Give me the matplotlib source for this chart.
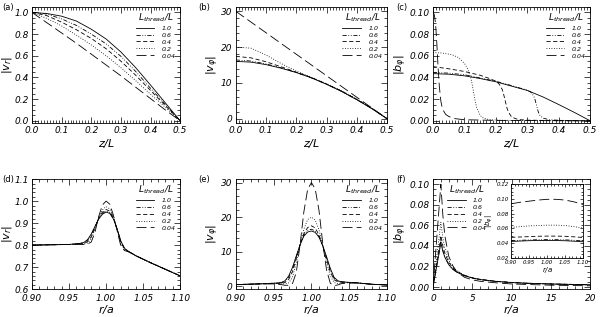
import numpy as np
import matplotlib
matplotlib.use('Agg')
import matplotlib.pyplot as plt
from matplotlib.ticker import MultipleLocator, AutoMinorLocator, FormatStrFormatter

plt.rcParams['font.family'] = 'DejaVu Sans'
plt.rcParams['font.style'] = 'italic'
plt.rcParams['mathtext.fontset'] = 'dejavusans'

# ---- data ----
ratios = ['1.0', '0.6', '0.4', '0.2', '0.04']

# (a) |v_r| vs z/L
z_ab = [0, 0.05, 0.1, 0.15, 0.2, 0.25, 0.3, 0.35, 0.4, 0.45, 0.5]
va = {
    '1.0':  [1.0, 0.99, 0.965, 0.92, 0.845, 0.755, 0.635, 0.49, 0.33, 0.165, 0.0],
    '0.6':  [1.0, 0.985, 0.94, 0.88, 0.80, 0.71, 0.595, 0.455, 0.30, 0.15, 0.0],
    '0.4':  [1.0, 0.97, 0.91, 0.84, 0.76, 0.665, 0.55, 0.42, 0.28, 0.14, 0.0],
    '0.2':  [1.0, 0.945, 0.875, 0.79, 0.70, 0.60, 0.49, 0.37, 0.245, 0.125, 0.0],
    '0.04': [1.0, 0.905, 0.81, 0.715, 0.615, 0.515, 0.415, 0.31, 0.205, 0.10, 0.0],
}

# (b) |v_phi| vs z/L
vb = {
    '1.0':  [16.0, 15.8, 15.1, 14.1, 12.9, 11.4, 9.6, 7.6, 5.3, 2.8, 0.0],
    '0.6':  [16.4, 16.1, 15.3, 14.2, 12.9, 11.4, 9.65, 7.65, 5.35, 2.85, 0.0],
    '0.4':  [17.4, 17.0, 15.9, 14.5, 13.0, 11.5, 9.7, 7.7, 5.4, 2.9, 0.0],
    '0.2':  [20.0, 19.7, 17.8, 15.4, 13.3, 11.6, 9.8, 7.8, 5.5, 2.9, 0.0],
    '0.04': [30.0, 27.0, 24.0, 21.0, 18.0, 15.0, 12.0, 9.0, 6.0, 3.0, 0.0],
}

# (c) |b_phi| vs z/L
zc = {
    '1.0':  [0, 0.05, 0.1, 0.15, 0.2, 0.25, 0.3, 0.35, 0.4, 0.45, 0.5],
    '0.6':  [0, 0.05, 0.1, 0.15, 0.2, 0.25, 0.3, 0.31, 0.32, 0.325, 0.33, 0.335, 0.34,
             0.35, 0.37, 0.4, 0.45, 0.5],
    '0.4':  [0, 0.05, 0.1, 0.15, 0.18, 0.2, 0.21, 0.22, 0.225, 0.23, 0.235, 0.24, 0.25,
             0.27, 0.3, 0.4, 0.5],
    '0.2':  [0, 0.03, 0.06, 0.08, 0.10, 0.11, 0.12, 0.125, 0.13, 0.135, 0.14, 0.15, 0.16,
             0.18, 0.22, 0.3, 0.5],
    '0.04': [0, 0.004, 0.008, 0.012, 0.016, 0.02, 0.025, 0.03, 0.04, 0.05, 0.07, 0.1, 0.2, 0.5],
}
bc = {
    '1.0':  [0.0435, 0.043, 0.0415, 0.039, 0.036, 0.032, 0.028, 0.022, 0.015, 0.0077, 0.0],
    '0.6':  [0.0445, 0.044, 0.0425, 0.0395, 0.0365, 0.0325, 0.0282, 0.0268, 0.023, 0.019,
             0.0135, 0.008, 0.005, 0.0025, 0.001, 0.0005, 0.0002, 0.0],
    '0.4':  [0.050, 0.048, 0.0455, 0.042, 0.039, 0.0365, 0.034, 0.029, 0.024, 0.018, 0.012,
             0.008, 0.0035, 0.0012, 0.0006, 0.0002, 0.0],
    '0.2':  [0.063, 0.0625, 0.061, 0.0585, 0.053, 0.048, 0.040, 0.033, 0.025, 0.017, 0.011,
             0.005, 0.0025, 0.001, 0.0005, 0.0002, 0.0],
    '0.04': [0.100, 0.098, 0.090, 0.072, 0.050, 0.032, 0.018, 0.011, 0.006, 0.004, 0.002,
             0.001, 0.0004, 0.0],
}

# (d) |v_r| vs r/a
r_d = [0.90, 0.95, 0.96, 0.965, 0.97, 0.975, 0.98, 0.985, 0.99, 0.995, 1.0, 1.005, 1.01,
       1.015, 1.02, 1.025, 1.03, 1.04, 1.05, 1.06, 1.08, 1.10]
vd = {
    '1.0':  [0.800, 0.803, 0.806, 0.808, 0.812, 0.825, 0.850, 0.885, 0.918, 0.940, 0.950, 0.944,
             0.918, 0.872, 0.818, 0.785, 0.772, 0.752, 0.736, 0.720, 0.690, 0.660],
    '0.6':  [0.800, 0.803, 0.806, 0.808, 0.811, 0.822, 0.847, 0.884, 0.920, 0.944, 0.955, 0.948,
             0.920, 0.872, 0.816, 0.784, 0.772, 0.752, 0.736, 0.720, 0.690, 0.660],
    '0.4':  [0.800, 0.803, 0.805, 0.806, 0.808, 0.815, 0.838, 0.879, 0.922, 0.950, 0.962, 0.954,
             0.924, 0.872, 0.812, 0.782, 0.771, 0.752, 0.736, 0.720, 0.690, 0.660],
    '0.2':  [0.800, 0.803, 0.804, 0.805, 0.806, 0.810, 0.828, 0.873, 0.925, 0.960, 0.975, 0.965,
             0.928, 0.870, 0.805, 0.779, 0.771, 0.752, 0.736, 0.720, 0.690, 0.660],
    '0.04': [0.800, 0.803, 0.803, 0.803, 0.803, 0.805, 0.814, 0.858, 0.930, 0.982, 1.000, 0.986,
             0.935, 0.864, 0.795, 0.775, 0.770, 0.752, 0.736, 0.720, 0.690, 0.660],
}

# (e) |v_phi| vs r/a
r_e = [0.90, 0.93, 0.95, 0.96, 0.965, 0.97, 0.975, 0.98, 0.985, 0.99, 0.995, 1.0, 1.005,
       1.01, 1.015, 1.02, 1.025, 1.03, 1.035, 1.04, 1.06, 1.08, 1.10]
ve = {
    '1.0':  [0.5, 0.7, 0.9, 1.1, 1.6, 3.0, 5.5, 8.8, 12.0, 14.5, 15.7, 16.0, 15.6, 14.2, 11.8,
             8.6, 5.2, 2.6, 1.6, 1.3, 1.0, 0.6, 0.4],
    '0.6':  [0.5, 0.7, 0.9, 1.0, 1.4, 2.6, 5.0, 8.5, 12.0, 14.8, 16.2, 16.5, 16.0, 14.4, 11.7,
             8.3, 4.8, 2.3, 1.5, 1.3, 1.0, 0.6, 0.4],
    '0.4':  [0.5, 0.7, 0.8, 0.9, 1.1, 2.0, 4.2, 8.0, 12.0, 15.2, 17.0, 17.5, 16.9, 14.9, 11.6,
             7.8, 4.2, 1.9, 1.3, 1.2, 1.0, 0.6, 0.4],
    '0.2':  [0.5, 0.7, 0.8, 0.7, 0.7, 1.0, 2.6, 6.8, 12.0, 16.5, 19.3, 20.0, 19.2, 16.4, 11.8,
             6.9, 3.0, 1.1, 0.8, 1.0, 1.0, 0.6, 0.4],
    '0.04': [0.5, 0.7, 0.7, 0.5, 0.3, 0.3, 0.8, 4.0, 12.0, 21.5, 28.0, 30.0, 28.2, 22.0, 12.5,
             4.8, 0.9, 0.2, 0.4, 0.8, 1.0, 0.6, 0.4],
}

# (f) |b_phi| vs r/a, wide range
r_f = [0, 0.25, 0.5, 0.75, 1.0, 1.25, 1.5, 2, 2.5, 3, 4, 5, 6, 8, 10, 12, 15, 20]
bf = {
    '1.0':  [0, 0.011, 0.0215, 0.032, 0.043, 0.035, 0.029, 0.0217, 0.0174, 0.0145, 0.011,
             0.0088, 0.0073, 0.0055, 0.0044, 0.0037, 0.003, 0.0022],
    '0.6':  [0, 0.011, 0.022, 0.033, 0.044, 0.0355, 0.0295, 0.022, 0.0175, 0.0146, 0.011,
             0.0088, 0.0073, 0.0055, 0.0044, 0.0037, 0.003, 0.0022],
    '0.4':  [0, 0.0125, 0.025, 0.0375, 0.050, 0.040, 0.033, 0.024, 0.0188, 0.0155, 0.0115,
             0.009, 0.0075, 0.0056, 0.0045, 0.0037, 0.003, 0.0022],
    '0.2':  [0, 0.016, 0.0315, 0.047, 0.063, 0.048, 0.038, 0.026, 0.020, 0.016, 0.0115,
             0.0087, 0.0071, 0.0053, 0.0042, 0.0035, 0.0028, 0.002],
    '0.04': [0, 0.025, 0.050, 0.075, 0.100, 0.070, 0.050, 0.030, 0.021, 0.015, 0.0095,
             0.007, 0.0056, 0.0041, 0.003, 0.0025, 0.0018, 0.0012],
}

# (f) inset, r/a 0.9-1.1
r_in = [0.90, 0.925, 0.95, 0.975, 1.0, 1.025, 1.05, 1.075, 1.10]
b_in = {
    '1.0':  [0.0425, 0.043, 0.0435, 0.0437, 0.0438, 0.0437, 0.0434, 0.0428, 0.042],
    '0.6':  [0.0435, 0.044, 0.0445, 0.0448, 0.045, 0.0449, 0.0446, 0.044, 0.0432],
    '0.4':  [0.048, 0.0485, 0.049, 0.0495, 0.0497, 0.0497, 0.0494, 0.0487, 0.0478],
    '0.2':  [0.0615, 0.0625, 0.0635, 0.064, 0.0645, 0.0645, 0.064, 0.0625, 0.0605],
    '0.04': [0.0935, 0.0955, 0.097, 0.0985, 0.0995, 0.0995, 0.0985, 0.096, 0.0925],
}

styles = {
    '1.0': '-',
    '0.6': (0, (5, 2, 1, 2, 1, 2)),
    '0.4': (0, (5, 3)),
    '0.2': (0, (1, 2)),
    '0.04': (0, (12, 5)),
}
LW = 0.6

fig = plt.figure(figsize=(6, 3.17), dpi=100)

top_b, top_h = 0.612, 0.366
bot_b, bot_h = 0.088, 0.347
cols = [(0.0533, 0.247), (0.393, 0.252), (0.7217, 0.262)]


def style_axis(ax, xmaj, xmin_n, ymaj, ymin_n, xfmt, yfmt, lsize=6.5, xpad=2.5):
    ax.xaxis.set_major_locator(MultipleLocator(xmaj))
    ax.xaxis.set_minor_locator(AutoMinorLocator(xmin_n))
    ax.yaxis.set_major_locator(MultipleLocator(ymaj))
    ax.yaxis.set_minor_locator(AutoMinorLocator(ymin_n))
    ax.xaxis.set_major_formatter(FormatStrFormatter(xfmt))
    ax.yaxis.set_major_formatter(FormatStrFormatter(yfmt))
    ax.tick_params(which='both', direction='in', top=True, right=True,
                   labelsize=lsize, width=0.5, colors='black', pad=2.5)
    ax.tick_params(axis='x', pad=xpad)
    ax.tick_params(which='major', length=4)
    ax.tick_params(which='minor', length=2)
    for s in ax.spines.values():
        s.set_linewidth(0.6)


def add_legend(ax, **kw):
    leg = ax.legend(title=r'$L_{\rm thread}/L$', frameon=False, fontsize=4.5,
                    handlelength=3.0, labelspacing=0.25, handletextpad=1.2,
                    borderaxespad=0.3, **kw)
    leg.get_title().set_fontsize(6.5)
    return leg


def draw(ax, xs, ys):
    for k in ratios:
        x = xs[k] if isinstance(xs, dict) else xs
        ax.plot(x, ys[k], color='black', lw=LW, ls=styles[k], label=k)


panels = []
# (a)
ax = fig.add_axes([cols[0][0], top_b, cols[0][1], top_h])
draw(ax, z_ab, va)
ax.set_xlim(0, 0.5); ax.set_ylim(-0.02, 1.05)
style_axis(ax, 0.1, 10, 0.2, 4, '%.1f', '%.1f')
ax.set_xlabel(r'$z/L$', fontsize=8, labelpad=1)
ax.set_ylabel(r'$|v_r|$', fontsize=8, labelpad=0)
add_legend(ax, loc='upper right')
panels.append((ax, '(a)'))

# (b)
ax = fig.add_axes([cols[1][0], top_b, cols[1][1], top_h])
draw(ax, z_ab, vb)
ax.set_xlim(0, 0.5); ax.set_ylim(-1.2, 31.2)
style_axis(ax, 0.1, 10, 10, 5, '%.1f', '%d')
ax.set_xlabel(r'$z/L$', fontsize=8, labelpad=1)
ax.set_ylabel(r'$|v_\varphi|$', fontsize=8, labelpad=0)
add_legend(ax, loc='upper right')
panels.append((ax, '(b)'))

# (c)
ax = fig.add_axes([cols[2][0], top_b, cols[2][1], top_h])
draw(ax, zc, bc)
ax.set_xlim(0, 0.5); ax.set_ylim(-0.002, 0.105)
style_axis(ax, 0.1, 10, 0.02, 4, '%.1f', '%.2f')
ax.set_xlabel(r'$z/L$', fontsize=8, labelpad=1)
ax.set_ylabel(r'$|b_\varphi|$', fontsize=8, labelpad=0)
add_legend(ax, loc='upper right')
panels.append((ax, '(c)'))

# (d)
ax = fig.add_axes([cols[0][0], bot_b, cols[0][1], bot_h])
draw(ax, r_d, vd)
ax.set_xlim(0.9, 1.1); ax.set_ylim(0.6, 1.1)
style_axis(ax, 0.05, 5, 0.1, 5, '%.2f', '%.1f', xpad=3.5)
ax.set_xlabel(r'$r/a$', fontsize=8, labelpad=0)
ax.set_ylabel(r'$|v_r|$', fontsize=8, labelpad=0)
add_legend(ax, loc='upper right')
panels.append((ax, '(d)'))

# (e)
ax = fig.add_axes([cols[1][0], bot_b, cols[1][1], bot_h])
draw(ax, r_e, ve)
ax.set_xlim(0.9, 1.1); ax.set_ylim(-0.8, 31)
style_axis(ax, 0.05, 5, 10, 5, '%.2f', '%d', xpad=3.5)
ax.set_xlabel(r'$r/a$', fontsize=8, labelpad=0)
ax.set_ylabel(r'$|v_\varphi|$', fontsize=8, labelpad=0)
add_legend(ax, loc='upper right')
panels.append((ax, '(e)'))

# (f)
ax = fig.add_axes([cols[2][0], bot_b, cols[2][1], bot_h])
draw(ax, r_f, bf)
ax.set_xlim(0, 20); ax.set_ylim(-0.002, 0.105)
style_axis(ax, 5, 5, 0.02, 4, '%d', '%.2f', xpad=3.5)
ax.set_xlabel(r'$r/a$', fontsize=8, labelpad=0)
ax.set_ylabel(r'$|b_\varphi|$', fontsize=8, labelpad=0)
add_legend(ax, loc='upper left', bbox_to_anchor=(0.06, 1.0))
panels.append((ax, '(f)'))

# inset in (f)
axi = fig.add_axes([0.852, 0.186, 0.12, 0.233])
draw(axi, r_in, b_in)
axi.set_xlim(0.9, 1.1); axi.set_ylim(0.02, 0.12)
style_axis(axi, 0.05, 5, 0.02, 4, '%.2f', '%.2f', lsize=4, xpad=1.5)
axi.tick_params(which='major', length=2.5, pad=1.5)
axi.tick_params(which='minor', length=1.2)
axi.set_xlabel(r'$r/a$', fontsize=5, labelpad=0)
axi.set_ylabel(r'$|b_\varphi|$', fontsize=5, labelpad=1)

for ax, lab in panels:
    pos = ax.get_position()
    fig.text(max(0.003, pos.x0 - 0.062), pos.y1 + 0.012, lab, fontsize=6,
             style='normal', ha='left', va='top')

fig.savefig('out.png', dpi=100)
